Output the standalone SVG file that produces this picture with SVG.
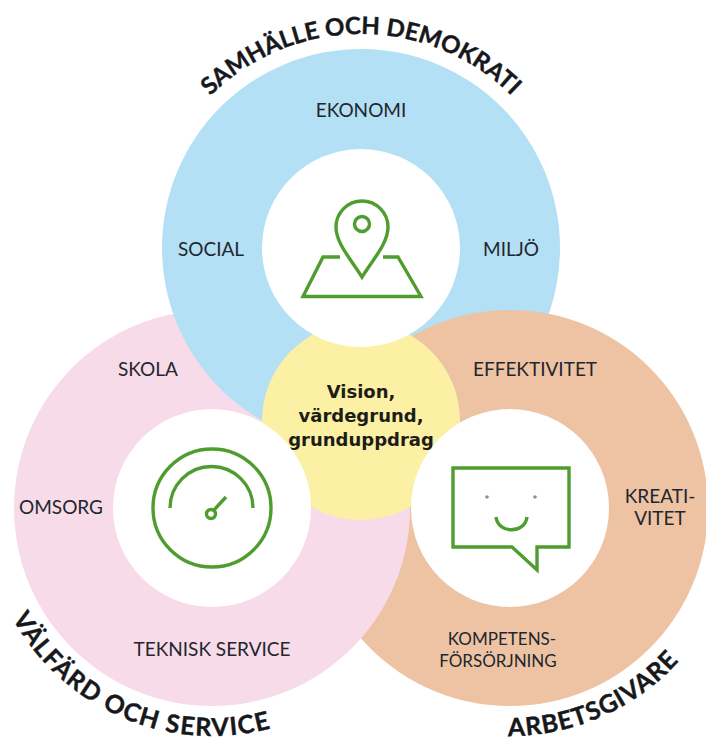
<svg xmlns="http://www.w3.org/2000/svg" width="706" height="738" viewBox="0 0 706 738">
<style>
.lbl{font-family:"Lato","Liberation Sans",sans-serif;font-size:19px;fill:#22262e;text-anchor:middle}
.sm{font-size:17px}
.cur{font-family:"Lato","Liberation Sans",sans-serif;font-size:24px;font-weight:700;fill:#16181c;stroke:#16181c;stroke-width:.4}
.low{font-size:25px;letter-spacing:1.3px}
.mid{font-family:"DejaVu Sans","Liberation Sans",sans-serif;font-size:18px;font-weight:700;fill:#1d1d18;text-anchor:middle}
.ic{fill:none;stroke:#4f9d2f;stroke-width:3.4}
.hole{fill:#fff}
</style>
<defs>
<clipPath id="pinkClip"><circle cx="212" cy="508" r="198"/></clipPath>
<path id="arcTop2" d="M147 248A214 214 0 0 1 575 248"/>
<path id="arcLeft" d="M-16 508A228 228 0 0 0 440 508"/>
<path id="arcRight" d="M282 508A228 228 0 0 0 738 508"/>
</defs>
<rect width="706" height="738" fill="#fff"/>
<g id="circle-samhalle"><circle cx="361" cy="248" r="199" fill="#b3e0f4"/></g>
<g id="circle-arbetsgivare"><circle cx="510" cy="508" r="198" fill="#edc3a3"/></g>
<g id="circle-valfard"><circle cx="212" cy="508" r="198" fill="#f8dbe8"/>
<circle cx="361" cy="248" r="199" fill="#b3e0f4" clip-path="url(#pinkClip)"/></g>
<g id="node-center"><circle cx="361" cy="421" r="99" fill="#fcf0a4"/>
<text class="mid" x="361" y="398">Vision,</text><text class="mid" x="361" y="422">värdegrund,</text><text class="mid" x="361" y="446">grunduppdrag</text></g>
<g id="node-map"><circle class="hole" cx="361" cy="248" r="99"/>
<path class="ic" d="M362 277C350 258 336 243 336 227A26 26 0 0 1 388 227C388 243 374 258 362 277Z"/>
<circle class="ic" cx="362" cy="224" r="7.5"/>
<path class="ic" d="M340 257H323L303 296.500H421L398 257H383"/></g>
<g id="node-gauge"><circle class="hole" cx="212" cy="508" r="99"/>
<circle class="ic" cx="212" cy="508" r="59"/>
<path class="ic" d="M170 508A41.500 41.500 0 0 1 253 508"/>
<circle class="ic" cx="211" cy="514" r="4.500"/>
<path class="ic" d="M214 510L226 497"/></g>
<g id="node-bubble"><circle class="hole" cx="510" cy="508" r="99"/>
<path class="ic" d="M453 468H569V547H537V570L512 547H453Z"/>
<circle cx="487" cy="497" r="1.800" fill="#8a9a80"/><circle cx="535" cy="497" r="1.800" fill="#8a9a80"/>
<path class="ic" d="M496 517C498 534 525 534 527 517"/></g>
<g id="labels">
<text class="lbl" x="361" y="117">EKONOMI</text>
<text class="lbl" x="211" y="256">SOCIAL</text>
<text class="lbl" x="511" y="256">MILJÖ</text>
<text class="lbl" x="148" y="376">SKOLA</text>
<text class="lbl" x="61" y="514">OMSORG</text>
<text class="lbl" x="212" y="656">TEKNISK SERVICE</text>
<text class="lbl" x="535" y="376">EFFEKTIVITET</text>
<text class="lbl" x="660" y="503">KREATI-</text><text class="lbl" x="660" y="525">VITET</text>
<text class="lbl sm" x="502" y="645">KOMPETENS-</text><text class="lbl sm" x="498" y="667">FÖRSÖRJNING</text>
</g>
<g id="curved">
<text class="cur"><textPath href="#arcTop2" startOffset="50%" text-anchor="middle">SAMHÄLLE OCH DEMOKRATI</textPath></text>
<text class="cur low"><textPath href="#arcLeft" startOffset="115">VÄLFÄRD OCH SERVICE</textPath></text>
<text class="cur" style="font-size:25px;letter-spacing:.9px"><textPath href="#arcRight" startOffset="356">ARBETSGIVARE</textPath></text>
</g>
<g id="connectors"/>
</svg>
